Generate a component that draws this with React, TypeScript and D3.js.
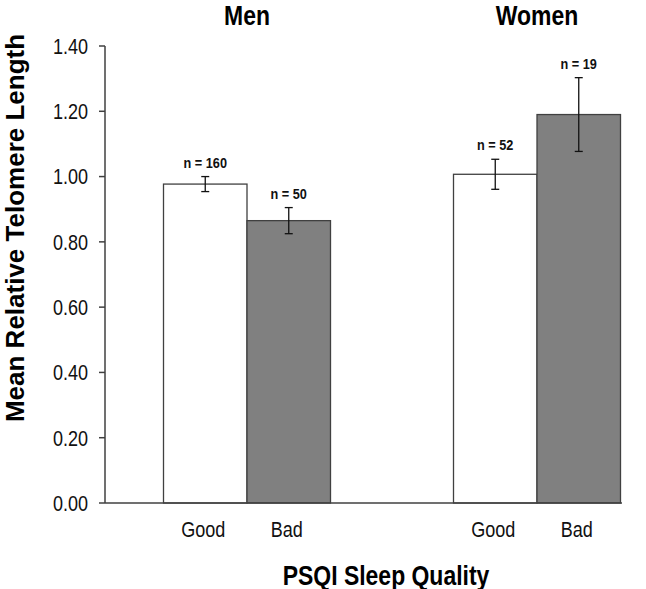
import React from "react";
import * as d3 from "d3";

const groups = ["Men", "Women"];
const qualities = ["Good", "Bad"];
const means = [[0.977, 0.865], [1.007, 1.19]];
const errs = [[0.023, 0.04], [0.046, 0.113]];
const nLabels = [["n = 160", "n = 50"], ["n = 52", "n = 19"]];
const yTicks = [0, 0.2, 0.4, 0.6, 0.8, 1.0, 1.2, 1.4];

const FONT = "'Liberation Sans', Arial, sans-serif";
const SQ = 0.82;

function SText(props: {
  x: number; y: number; size: number; anchor?: string; bold?: boolean; dy?: string; fill?: string; children: React.ReactNode;
}) {
  const { x, y, size, anchor = "middle", bold = false, dy, fill = "#111", children } = props;
  return (
    <g transform={`translate(${x},${y}) scale(${SQ},1)`}>
      <text x={0} y={0} dy={dy} textAnchor={anchor} fontSize={size} fontWeight={bold ? "bold" : "normal"} fill={fill}>
        {children}
      </text>
    </g>
  );
}

export default function App() {
  const W = 646, H = 589;
  const axisX = 105;
  const y = d3.scaleLinear().domain([0, 1.4]).range([503, 46]);
  const gx = d3.scalePoint().domain(groups).range([247, 537]);
  const bw = 83.5;
  const ix = d3.scaleBand().domain(qualities).range([-bw, bw]).padding(0);
  const fills = ["#ffffff", "#808080"];
  const axisColor = "#404040";

  return (
    <svg width={W} height={H} style={{ position: "absolute", left: 0, top: 0, fontFamily: FONT }}>
      <rect x={0} y={0} width={W} height={H} fill="#fff" />
      {groups.map((g) => (
        <SText key={g} x={gx(g) as number} y={25} size={28} bold fill="#000">{g}</SText>
      ))}
      {groups.map((g, gi) =>
        qualities.map((q, qi) => {
          const x0 = (gx(g) as number) + (ix(q) as number);
          const v = means[gi][qi];
          const e = errs[gi][qi];
          const cx = x0 + ix.bandwidth() / 2;
          return (
            <g key={g + q}>
              <rect x={x0} y={y(v)} width={ix.bandwidth()} height={y(0) - y(v)} fill={fills[qi]} stroke={axisColor} strokeWidth={1.3} />
              <line x1={cx} x2={cx} y1={y(v + e)} y2={y(v - e)} stroke="#111" strokeWidth={1.3} />
              <line x1={cx - 4} x2={cx + 4} y1={y(v + e)} y2={y(v + e)} stroke="#111" strokeWidth={1.3} />
              <line x1={cx - 4} x2={cx + 4} y1={y(v - e)} y2={y(v - e)} stroke="#111" strokeWidth={1.3} />
              <SText x={cx} y={y(v + e) - 9} size={15.5} bold>{nLabels[gi][qi]}</SText>
              <SText x={cx - 2} y={537} size={22}>{q}</SText>
            </g>
          );
        })
      )}
      <line x1={axisX} x2={axisX} y1={y(1.4)} y2={y(0)} stroke={axisColor} strokeWidth={1.5} />
      <line x1={axisX} x2={622} y1={y(0)} y2={y(0)} stroke={axisColor} strokeWidth={1.5} />
      {yTicks.map((t) => (
        <g key={t}>
          <line x1={axisX - 6} x2={axisX} y1={y(t)} y2={y(t)} stroke={axisColor} strokeWidth={1.5} />
          <SText x={axisX - 17} y={y(t)} dy="0.36em" anchor="end" size={22}>{d3.format(".2f")(t)}</SText>
        </g>
      ))}
      <text transform="translate(24,228) rotate(-90)" textAnchor="middle" fontSize={26} fontWeight="bold" fill="#000">Mean Relative Telomere Length</text>
      <SText x={386} y={585} size={28} bold fill="#000">PSQI Sleep Quality</SText>
    </svg>
  );
}
